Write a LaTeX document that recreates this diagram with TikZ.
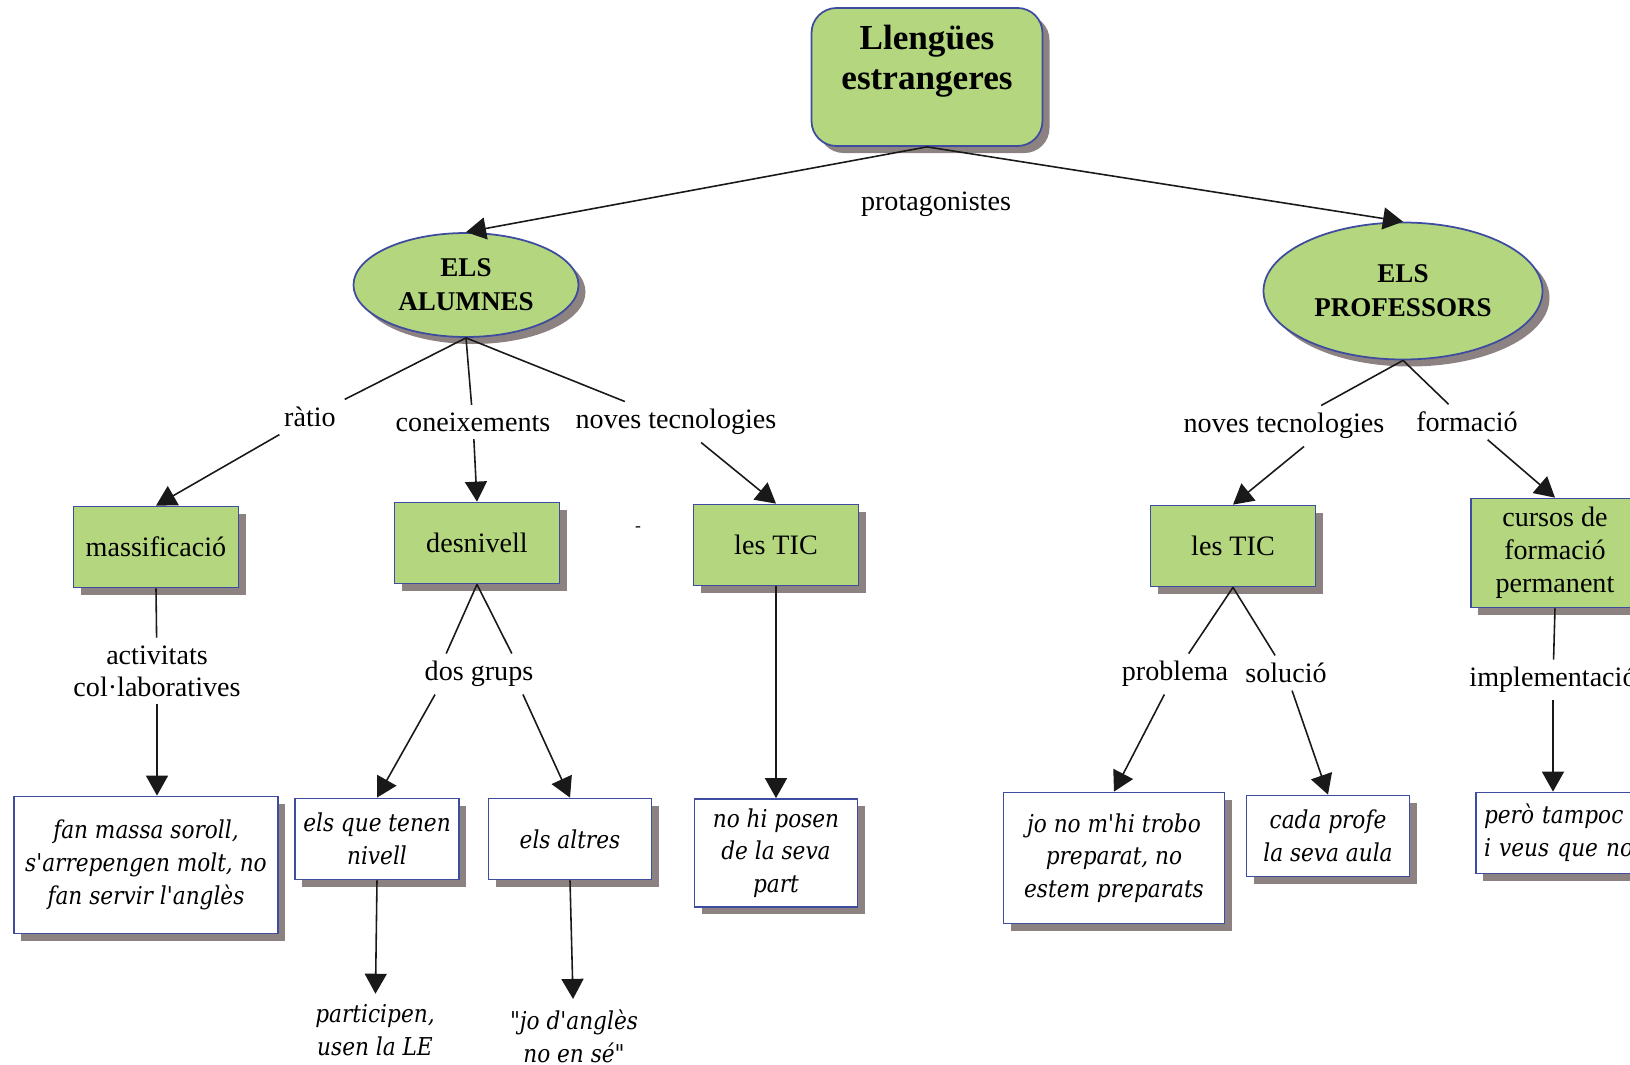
\documentclass[tikz,border=0pt]{standalone}
\usepackage{fontspec}
\setmainfont{Liberation Serif}
\newfontfamily\exfont{DejaVu Serif}[FakeStretch=0.88]
\usepackage{xcolor}
\usepackage{tikz}
\usetikzlibrary{shapes.geometric}
\usetikzlibrary{shadows}
\usetikzlibrary{arrows.meta}
\definecolor{conceptfill}{RGB}{180,214,126}
\definecolor{conceptline}{RGB}{62,76,160}
\definecolor{shadowgray}{RGB}{140,130,130}

\begin{document}
\begin{tikzpicture}
[shade/.style={drop shadow={shadow xshift=0.07cm,shadow yshift=-0.07cm,fill=shadowgray,opacity=1}},
topc/.style={rectangle,rounded corners=0.25cm,draw=conceptline,fill=conceptfill,line width=0.5pt,shade,minimum width=2.31cm,minimum height=1.38cm,align=center,font=\fontsize{10}{11.4}\selectfont\bfseries},
grp/.style={ellipse,draw=conceptline,fill=conceptfill,line width=0.5pt,shade,inner sep=0pt,align=center,font=\fontsize{7.7}{9.7}\selectfont\bfseries},
conc/.style={rectangle,draw=conceptline,fill=conceptfill,line width=0.5pt,shade,minimum width=1.65cm,minimum height=0.81cm,inner sep=0.08cm,align=center,font=\fontsize{8}{9.4}\selectfont},
exam/.style={rectangle,draw=conceptline,fill=white,line width=0.5pt,shade,minimum width=1.63cm,minimum height=0.81cm,inner sep=0.08cm,align=center,font=\exfont\itshape\fontsize{7}{9.3}\selectfont},
link/.style={align=center,inner xsep=0.1cm,inner ysep=0.07cm,font=\fontsize{8}{9.2}\selectfont},
quot/.style={align=center,inner sep=0.1cm,font=\exfont\itshape\fontsize{7}{9.3}\selectfont},
conn/.style={draw=black!90,line width=0.45pt},
arr/.style={conn,-{Triangle[length=0.2cm,width=0.22cm]}}]

\useasboundingbox (0,0) rectangle (16.3,-10.65);
\clip (0,0) rectangle (16.3,-10.65);

\node at (9.27,-0.77)  [topc] (lang) {Llengües\\estrangeres\\\mbox{}};
\node at (9.36,-2.04)  [link] (prot) {protagonistes};
\node at (4.66,-2.85)  [grp,minimum width=2.25cm,minimum height=1.04cm] (alum) {ELS\\ALUMNES};
\node at (14.03,-2.91) [grp,minimum width=2.79cm,minimum height=1.37cm] (prof) {ELS\\PROFESSORS};
\draw [arr] (lang.south) to (alum.north);
\draw [arr] (lang.south) to (prof.north);

% els alumnes
\node at (3.10,-4.17) [link] (ratio)  {ràtio};
\node at (4.73,-4.22) [link] (coneix) {coneixements};
\node at (6.76,-4.22) [link] (novA)   {noves tecnologies};
\node at (1.56,-5.47) [conc] (massif) {massificació};
\node at (4.77,-5.43) [conc] (desniv) {desnivell};
\node at (7.76,-5.45) [conc] (ticA)   {les TIC};
\node at (6.38,-5.29) [font=\tiny,inner sep=0pt] (mark) {-};
\draw [conn] (alum.south) to (ratio);
\draw [conn] (alum.south) to (coneix);
\draw [conn] (alum.south) to (novA);
\draw [arr] (ratio) to (massif.north);
\draw [arr] (coneix) to (desniv.north);
\draw [arr] (novA) to (ticA.north);

\node at (1.57,-6.71) [link] (activ) {activitats\\col·laboratives};
\node at (4.79,-6.74) [link] (dos)   {dos grups};
\node at (1.46,-8.65) [exam,minimum width=2.64cm,minimum height=1.37cm] (soroll) {fan massa soroll,\\s'arrepengen molt, no\\fan servir l'anglès};
\node at (3.77,-8.39) [exam] (nivell) {els que tenen\\nivell};
\node at (5.70,-8.39) [exam] (altres) {els altres};
\node at (7.76,-8.53) [exam,minimum height=1.08cm] (posen) {no hi posen\\de la seva\\part};
\node at (3.75,-10.30) [quot] (partic) {participen,\\usen la LE};
\node at (5.74,-10.36) [quot] (jo)     {"jo d'anglès\\no en sé"};
\draw [conn] (massif.south) to (activ);
\draw [arr] (activ) to (activ |- soroll.north);
\draw [conn] (desniv.south) to (dos.148);
\draw [conn] (desniv.south) to (dos.32);
\draw [arr] (dos.205) to (nivell.north);
\draw [arr] (dos.335) to (altres.north);
\draw [arr] (ticA.south) to (posen.north);
\draw [arr] (nivell.south) to (partic);
\draw [arr] (altres.south) to (jo);

% els professors
\node at (12.84,-4.26) [link] (novB) {noves tecnologies};
\node at (14.67,-4.22) [link] (form) {formació};
\node at (12.33,-5.46) [conc] (ticB) {les TIC};
\node at (15.55,-5.53) [conc,minimum width=1.68cm,minimum height=1.09cm] (cursos) {cursos de\\formació\\permanent};
\draw [conn] (prof.south) to (novB);
\draw [conn] (prof.south) to (form);
\draw [arr] ([xshift=0.2cm]novB.south) to (ticB.north);
\draw [arr] (form) to (cursos.north);

\node at (11.75,-6.74) [link] (probl) {problema};
\node at (12.86,-6.73) [link] (soluc) {solució};
\node at (15.53,-6.80) [link] (impl)  {implementació};
\node at (11.14,-8.58) [exam,minimum width=2.21cm,minimum height=1.31cm] (trobo) {jo no m'hi trobo\\preparat, no\\estem preparats};
\node at (13.28,-8.36) [exam] (profe) {cada profe\\la seva aula};
\node at (15.60,-8.33) [exam,text width=1.52cm,align=left] (pero) {però tampoc\\i veus que no};
\draw [conn] (ticB.south) to (probl);
\draw [conn] (ticB.south) to (soluc);
\draw [arr] (probl) to (trobo.north);
\draw [arr] (soluc) to (profe.north);
\draw [conn] (cursos.south) to (impl);
\draw [arr] (impl) to (impl |- pero.north);
\end{tikzpicture}
\end{document}
